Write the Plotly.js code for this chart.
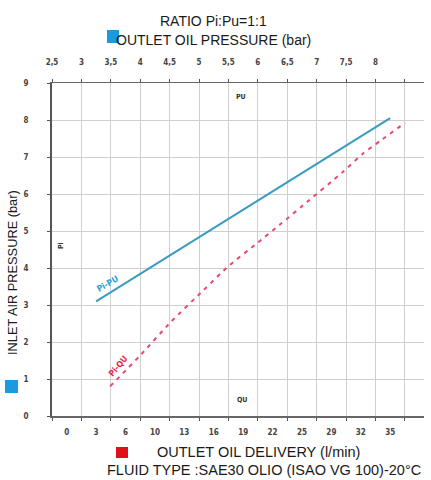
<!DOCTYPE html>
<html>
<head>
<meta charset="utf-8">
<script src="https://cdn.plot.ly/plotly-3.0.1.min.js"></script>
<style>html,body{margin:0;padding:0;background:#fff;}#chart{width:431px;height:480px;}</style>
</head>
<body>
<div id="chart"></div>
<script>
// Top axis: outlet oil pressure (bar)
var pressureTicks = [2.5, 3, 3.5, 4, 4.5, 5, 5.5, 6, 6.5, 7, 7.5, 8, 8.5];
var pressureLabels = ["2,5", "3", "3,5", "4", "4,5", "5", "5,5", "6", "6,5", "7", "7,5", "8", ""];
// Bottom axis: outlet oil delivery (l/min)
var deliveryLabels = ["0", "3", "6", "10", "13", "16", "19", "22", "25", "29", "32", "35"];
// Left axis: inlet air pressure (bar)
var airTicks = [0, 1, 2, 3, 4, 5, 6, 7, 8, 9];

// Series Pi-PU (x: outlet pressure, y: inlet air pressure)
var puX = [3.25, 8.25];
var puY = [3.1, 8.05];

// Series Pi-QU (x: delivery, y: inlet air pressure)
var quX = [4.7, 8.0, 11.3, 14.8, 17.5, 20.5, 23.2, 25.6, 29.9, 32.1, 34.0, 36.6];
var quY = [0.8, 1.65, 2.55, 3.4, 4.05, 4.65, 5.2, 5.7, 6.6, 7.1, 7.45, 7.92];

var step = 35 / 11;
var deliveryVals = deliveryLabels.map(function (_, i) { return i * step; });
var nIntervals = 12.65;
var topRange = [2.5, 2.5 + nIntervals * 0.5];
var botRange = [-0.5 * step, (nIntervals - 0.5) * step];

var tickFont = {family: "DejaVu Sans Condensed, Liberation Sans Narrow, sans-serif", size: 8, color: "#444", weight: "bold"};
var textFont = {family: "Liberation Sans, Arial, sans-serif", size: 14, color: "#1a1a1a"};
var bottomFont = {family: "Liberation Sans, Arial, sans-serif", size: 14.5, color: "#1a1a1a"};
var yTitleFont = {family: "Liberation Sans, Arial, sans-serif", size: 12.8, color: "#1a1a1a"};

var traces = [
  {x: quX, y: quY, xaxis: "x", yaxis: "y", mode: "lines", type: "scatter",
   line: {color: "#e64a6e", width: 2, dash: "4px,5px", shape: "spline", smoothing: 0.6}, hoverinfo: "skip"},
  {x: puX, y: puY, xaxis: "x2", yaxis: "y", mode: "lines", type: "scatter",
   line: {color: "#3a9cc0", width: 2}, hoverinfo: "skip"}
];

function px(p) { return (p - 52) / 372; }
function py(p) { return (416 - p) / 333; }
function ann(text, x, y, font, angle) {
  return {text: text, xref: "paper", yref: "paper", x: px(x), y: py(y),
          xanchor: "center", yanchor: "middle", textangle: angle || 0,
          showarrow: false, font: font};
}
var smallFont = {family: tickFont.family, size: 7, color: "#333", weight: "bold"};

var layout = {
  width: 431, height: 480,
  margin: {l: 52, r: 7, t: 83, b: 64, pad: 0},
  paper_bgcolor: "#fff", plot_bgcolor: "#fff",
  showlegend: false,
  xaxis: {
    range: botRange, tickvals: deliveryVals, ticktext: deliveryLabels,
    ticks: "", showgrid: false, zeroline: false,
    showline: true, linecolor: "#555", linewidth: 2,
    tickfont: tickFont, ticklabelstandoff: 7, fixedrange: true
  },
  xaxis2: {
    overlaying: "x", side: "top", range: topRange,
    tickvals: pressureTicks, ticktext: pressureLabels,
    ticks: "outside", ticklen: 3, tickcolor: "#555", tickwidth: 1,
    mirror: "ticks",
    showgrid: true, gridcolor: "#cfcfcf", gridwidth: 1, zeroline: false,
    showline: true, linecolor: "#666", linewidth: 1.5,
    tickfont: tickFont, ticklabelstandoff: 10, fixedrange: true
  },
  yaxis: {
    range: [0, 9], tickvals: airTicks,
    ticks: "outside", ticklen: 3, tickcolor: "#555",
    showgrid: true, gridcolor: "#cfcfcf", gridwidth: 1, zeroline: false,
    showline: true, linecolor: "#555", linewidth: 2,
    tickfont: tickFont, ticklabelstandoff: 17, fixedrange: true
  },
  shapes: [
    {type: "rect", xref: "paper", yref: "paper", x0: px(107), x1: px(119), y0: py(43), y1: py(30),
     fillcolor: "#1a9be0", line: {width: 0}},
    {type: "rect", xref: "paper", yref: "paper", x0: px(5), x1: px(18), y0: py(393), y1: py(380),
     fillcolor: "#1a9be0", line: {width: 0}},
    {type: "rect", xref: "paper", yref: "paper", x0: px(116), x1: px(128), y0: py(458), y1: py(447),
     fillcolor: "#e0101a", line: {width: 0}}
  ],
  annotations: [
    ann("RATIO Pi:Pu=1:1", 213, 21, textFont),
    ann("OUTLET OIL PRESSURE (bar)", 213, 40, textFont),
    ann("INLET AIR PRESSURE (bar)", 12, 273, yTitleFont, -90),
    ann("OUTLET OIL DELIVERY (l/min)", 258, 452, bottomFont),
    ann("FLUID TYPE :SAE30 OLIO (ISAO VG 100)-20°C", 264, 470, bottomFont),
    ann("PU", 241, 97, smallFont),
    ann("QU", 242, 400, smallFont),
    ann("Pi", 61, 246, smallFont, -90),
    ann("Pi-PU", 107, 284, {family: tickFont.family, size: 8.5, color: "#2a9fd6", weight: "bold"}, -30),
    ann("Pi-QU", 118, 366, {family: tickFont.family, size: 8.5, color: "#e8284a", weight: "bold"}, -50)
  ]
};

Plotly.newPlot("chart", traces, layout, {staticPlot: true, displayModeBar: false});
</script>
</body>
</html>
